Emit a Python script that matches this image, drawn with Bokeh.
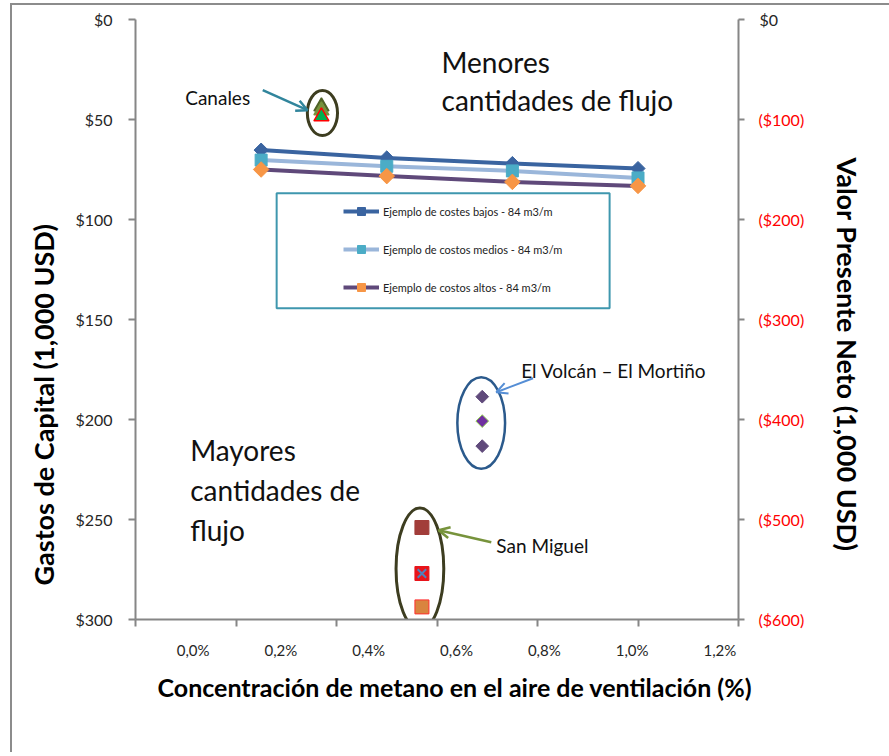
import math
from bokeh.plotting import figure
from bokeh.models import (Range1d, LinearAxis, FixedTicker, NumeralTickFormatter,
                          CustomJSTickFormatter, Label, Title,
                          Arrow, OpenHead, Legend, LegendItem, BoxAnnotation)
from bokeh.embed import file_html
from bokeh.resources import INLINE

# ---------------- data ----------------
X_TICKS = [0.0, 0.2, 0.4, 0.6, 0.8, 1.0, 1.2]
X_TICK_LABELS = ["0,0%", "0,2%", "0,4%", "0,6%", "0,8%", "1,0%", "1,2%"]
Y_TICKS = [0, 50, 100, 150, 200, 250, 300]
NPV_TICKS = [0, -100, -200, -300, -400, -500, -600]

LINE_X = [0.25, 0.50, 0.75, 1.00]
COST_BAJOS = [65.3, 69.2, 72.0, 74.5]
COST_MEDIOS = [70.3, 73.4, 75.7, 79.2]
COST_ALTOS = [75.0, 78.3, 81.2, 83.2]
SERIES_NAMES = ["Ejemplo de costes bajos - 84 m3/m",
                "Ejemplo de costos medios - 84 m3/m",
                "Ejemplo de costos altos - 84 m3/m"]

CANALES_X = 0.37
CANALES_Y = [43.5, 45.5, 48.5]
VOLCAN_X = 0.69
VOLCAN_Y = [188.6, 200.8, 213.3]
SANMIGUEL_X = 0.57
SANMIGUEL_Y = [254.0, 277.0, 293.7]

FONT = "Lato"
AX_COL = "#868686"
FRAME_COL = "#8c8c8c"

p = figure(width=889, height=752, output_backend="svg", toolbar_location=None,
           x_range=Range1d(0, 1.2), y_range=Range1d(300, 0),
           min_border_left=135, min_border_right=147, min_border_top=19,
           min_border_bottom=133, x_axis_location=None, y_axis_location=None,
           styles={"background":
                   f"linear-gradient({FRAME_COL},{FRAME_COL}) 10px 3px / 2px 100% no-repeat, "
                   f"linear-gradient({FRAME_COL},{FRAME_COL}) 10px 3px / 100% 2px no-repeat, "
                   "white"})
p.grid.visible = False
p.outline_line_color = None
p.background_fill_color = "white"
p.border_fill_alpha = 0
p.extra_y_ranges = {"npv": Range1d(-600, 0)}


def style_axis(ax, tick_out):
    ax.axis_line_color = AX_COL
    ax.axis_line_width = 2
    ax.major_tick_line_color = AX_COL
    ax.major_tick_line_width = 2
    ax.major_tick_out = tick_out
    ax.major_tick_in = 0
    ax.minor_tick_line_color = None
    ax.major_label_text_font = FONT


# bottom axis 1: tick marks only
xax = LinearAxis(ticker=FixedTicker(ticks=X_TICKS),
                 formatter=CustomJSTickFormatter(code="return ''"))
style_axis(xax, 7)
xax.major_label_standoff = 0
xax.major_label_text_font_size = "0px"
p.add_layout(xax, "below")

# bottom axis 2: the tick labels, placed as in the reference (compressed spacing)
LBL_OFFSET, LBL_SCALE = 0.1147, 0.8736
xlab = LinearAxis(ticker=FixedTicker(ticks=[LBL_OFFSET + LBL_SCALE * t for t in X_TICKS]),
                  formatter=CustomJSTickFormatter(args=dict(labels=X_TICK_LABELS),
                                                  code="return labels[index]"))
xlab.axis_line_color = None
xlab.major_tick_line_color = None
xlab.minor_tick_line_color = None
xlab.major_tick_out = 0
xlab.major_tick_in = 0
xlab.major_label_standoff = 14
xlab.major_label_text_font = FONT
xlab.major_label_text_font_size = "15px"
xlab.major_label_text_color = "#262626"
p.add_layout(xlab, "below")

p.add_layout(Title(text="Concentración de metano en el aire de ventilación (%)",
                   align="left", offset=22, standoff=16, text_font=FONT,
                   text_font_size="25px", text_font_style="bold",
                   text_color="black"), "below")

# left axis
yax = LinearAxis(ticker=FixedTicker(ticks=Y_TICKS),
                 formatter=NumeralTickFormatter(format="$0"))
style_axis(yax, 7)
yax.major_label_text_font_size = "16px"
yax.major_label_text_color = "#262626"
yax.major_label_standoff = 16
p.add_layout(yax, "left")
p.add_layout(Title(text="Gastos de Capital (1,000 USD)", align="left",
                   offset=34, standoff=26, text_font=FONT, text_font_size="27px",
                   text_font_style="bold", text_color="black"), "left")

# right axis (net present value, negative values in red parentheses)
rax = LinearAxis(y_range_name="npv", ticker=FixedTicker(ticks=NPV_TICKS),
                 formatter=CustomJSTickFormatter(
                     code="return tick == 0 ? '' : '($' + Math.abs(tick) + ')'"))
style_axis(rax, 6)
rax.major_label_text_font_size = "16px"
rax.major_label_text_color = "#FF0000"
rax.major_label_standoff = 14
p.add_layout(rax, "right")

# "$0" of the right axis in black
rax0 = LinearAxis(y_range_name="npv", ticker=FixedTicker(ticks=[NPV_TICKS[0]]),
                  formatter=NumeralTickFormatter(format="$0"))
rax0.axis_line_color = None
rax0.major_tick_line_color = None
rax0.minor_tick_line_color = None
rax0.major_tick_out = 0
rax0.major_tick_in = 0
rax0.major_label_standoff = -48
rax0.major_label_text_font = FONT
rax0.major_label_text_font_size = "16px"
rax0.major_label_text_color = "#262626"
p.add_layout(rax0, "right")

p.add_layout(Title(text="Valor Presente Neto (1,000 USD)", align="left",
                   offset=138, standoff=47, text_font=FONT, text_font_size="27px",
                   text_font_style="bold", text_color="black"), "right")

# series lines
l1 = p.line(LINE_X, COST_BAJOS, line_color="#3A64A0", line_width=4)
l2 = p.line(LINE_X, COST_MEDIOS, line_color="#9AB6DA", line_width=4)
l3 = p.line(LINE_X, COST_ALTOS, line_color="#5F497A", line_width=4)
m1 = p.scatter(LINE_X, COST_BAJOS, marker="square", angle=math.pi / 4, size=10,
               fill_color="#3A64A0", line_color="#3A64A0")
m2 = p.scatter(LINE_X, COST_MEDIOS, marker="square", size=12,
               fill_color="#4BACC6", line_color="#4BACC6")
m3 = p.scatter(LINE_X, COST_ALTOS, marker="square", angle=math.pi / 4, size=11,
               fill_color="#F79646", line_color="#F79646")

# Canales
CANALES_COLORS = ["#4F6228", "#76923C", "#00B050"]
CANALES_LINES = ["#4F6228", "#76923C", "#FF0000"]
for yv, fc, lc in zip(CANALES_Y, CANALES_COLORS, CANALES_LINES):
    p.scatter([CANALES_X], [yv], marker="triangle", size=15, fill_color=fc,
              line_color=lc, line_width=1.5)

# El Volcán - El Mortiño
VOLCAN_FILLS = ["#604A7B", "#7030A0", "#604A7B"]
VOLCAN_LINES = ["#604A7B", "#92D050", "#604A7B"]
for yv, fc, lc in zip(VOLCAN_Y, VOLCAN_FILLS, VOLCAN_LINES):
    p.scatter([VOLCAN_X], [yv], marker="square", angle=math.pi / 4, size=9,
              fill_color=fc, line_color=lc, line_width=1)

# San Miguel
SM_FILLS = ["#A23D3A", "#E8141B", "#D9843F"]
SM_LINES = ["#A23D3A", "#E8141B", "#FF3030"]
for yv, fc, lc in zip(SANMIGUEL_Y, SM_FILLS, SM_LINES):
    p.scatter([SANMIGUEL_X], [yv], marker="square", size=14, fill_color=fc,
              line_color=lc, line_width=1)
p.scatter([SANMIGUEL_X], [SANMIGUEL_Y[1]], marker="x", size=12,
          line_color="#4F81BD", line_width=2)


# ellipses around groups
def ell(xc, ys, pad, wd, col, lw):
    p.ellipse(x=[xc], y=[(min(ys) + max(ys)) / 2 + 0.8], width=wd,
              height=(max(ys) - min(ys)) + pad, fill_color=None,
              line_color=col, line_width=lw)


ell(CANALES_X + 0.002, CANALES_Y, 17.5, 0.06, "#3D3D20", 3)
ell(VOLCAN_X - 0.002, VOLCAN_Y, 21, 0.095, "#2B5A8C", 2.5)
ell(SANMIGUEL_X - 0.004, SANMIGUEL_Y, 21, 0.095, "#3D3D20", 3)

# arrows
p.add_layout(Arrow(end=OpenHead(size=11, line_color="#31859C", line_width=2.5),
                   x_start=0.2532, y_start=35.35, x_end=0.3422, y_end=45.35,
                   line_color="#31859C", line_width=2.5))
p.add_layout(Arrow(end=OpenHead(size=11, line_color="#558ED5", line_width=2),
                   x_start=0.7912, y_start=179.35, x_end=0.718, y_end=186.35,
                   line_color="#558ED5", line_width=2))
p.add_layout(Arrow(end=OpenHead(size=11, line_color="#77933C", line_width=2.5),
                   x_start=0.708, y_start=261.35, x_end=0.6033, y_end=255.35,
                   line_color="#77933C", line_width=2.5))


# annotation texts
def txt(x, y, s, size):
    p.add_layout(Label(x=x, y=y, text=s, text_align="left", text_baseline="middle",
                       text_font=FONT, text_font_size=size, text_color="#111111"))


txt(0.0989, 38.9, "Canales", "19px")
txt(0.7675, 175.4, "El Volcán – El Mortiño", "19px")
txt(0.718, 262.9, "San Miguel", "19px")
txt(0.609, 21.4, "Menores", "28px")
txt(0.609, 40.4, "cantidades de flujo", "28px")
txt(0.1088, 215.4, "Mayores", "28px")
txt(0.1088, 235.4, "cantidades de", "28px")
txt(0.1088, 255.4, "flujo", "28px")

# legend box + legend
p.add_layout(BoxAnnotation(left=0.2809, right=0.9435, top=86.85, bottom=144.35,
                           fill_alpha=0, line_color="#3F97AE", line_alpha=1,
                           line_width=2))
legend = Legend(items=[LegendItem(label=SERIES_NAMES[0], renderers=[l1, m1]),
                       LegendItem(label=SERIES_NAMES[1], renderers=[l2, m2]),
                       LegendItem(label=SERIES_NAMES[2], renderers=[l3, m3])],
                location=(208, 322), padding=0, spacing=18, label_height=20,
                glyph_height=20, glyph_width=36, label_standoff=4,
                border_line_color=None, background_fill_alpha=0,
                label_text_font=FONT, label_text_font_size="11px",
                label_text_color="#222222")
p.add_layout(legend)

open("out.html", "w").write(file_html(p, INLINE))
